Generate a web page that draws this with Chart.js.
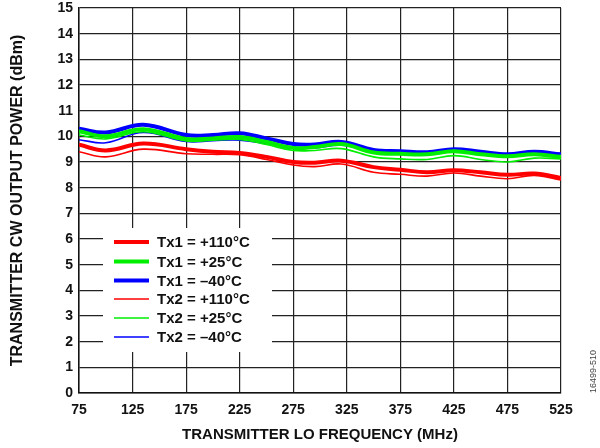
<!DOCTYPE html>
<html>
<head>
<meta charset="utf-8">
<script src="https://cdn.jsdelivr.net/npm/chart.js@4.4.1/dist/chart.umd.min.js"></script>
<style>
  html, body { margin: 0; padding: 0; background: #fff; }
  #wrap { width: 600px; height: 448px; position: relative; }
</style>
</head>
<body>
<div id="wrap"><canvas id="myChart" width="600" height="448"></canvas></div>
<script>
let freq = [75, 100, 135, 175, 200, 225, 250, 275, 295, 320, 350, 375, 400, 425, 450, 475, 500, 525];

let tx1Hot  = [9.67, 9.45, 9.72, 9.5, 9.4, 9.35, 9.2, 9.0, 8.97, 9.05, 8.8, 8.7, 8.6, 8.68, 8.6, 8.5, 8.55, 8.38];
let tx1Room = [10.2, 10.0, 10.28, 9.9, 9.92, 9.97, 9.78, 9.55, 9.58, 9.7, 9.37, 9.32, 9.3, 9.42, 9.3, 9.22, 9.3, 9.2];
let tx1Cold = [10.3, 10.15, 10.45, 10.05, 10.05, 10.12, 9.92, 9.7, 9.68, 9.78, 9.47, 9.42, 9.38, 9.5, 9.4, 9.3, 9.4, 9.3];
let tx2Hot  = [9.4, 9.2, 9.5, 9.32, 9.3, 9.28, 9.1, 8.88, 8.82, 8.92, 8.6, 8.52, 8.45, 8.57, 8.45, 8.35, 8.48, 8.3];
let tx2Room = [10.05, 9.9, 10.18, 9.82, 9.85, 9.88, 9.68, 9.45, 9.45, 9.52, 9.2, 9.12, 9.1, 9.25, 9.1, 9.0, 9.15, 9.12];
let tx2Cold = [9.87, 9.75, 10.15, 9.8, 9.83, 9.85, 9.72, 9.58, 9.55, 9.65, 9.4, 9.35, 9.32, 9.45, 9.33, 9.25, 9.35, 9.25];

let labels = ['Tx1 = +110°C', 'Tx1 = +25°C', 'Tx1 = –40°C', 'Tx2 = +110°C', 'Tx2 = +25°C', 'Tx2 = –40°C'];
let series = [tx1Hot, tx1Room, tx1Cold, tx2Hot, tx2Room, tx2Cold];
let colors = ['#ff0000', '#00ee00', '#0000ff', '#ff0000', '#00ee00', '#0000ff'];
let widths = [4, 4, 4, 1.6, 1.6, 1.6];

let xTicks = [75, 125, 175, 225, 275, 325, 375, 425, 475, 525];

let font = 'Liberation Sans, Arial, sans-serif';

let datasets = series.map(function (vals, i) {
    return {
        label: labels[i],
        data: vals.map(function (v, j) { return { x: freq[j], y: v }; }),
        borderColor: colors[i],
        borderWidth: widths[i],
        pointRadius: 0,
        tension: 0.4,
        fill: false
    };
});

// legend box inside the plot, plus the figure number on the right edge
let extras = {
    id: 'extras',
    afterDatasetsDraw: function (chart) {
        let ctx = chart.ctx;
        ctx.save();
        ctx.fillStyle = '#fff';
        ctx.fillRect(103, 228, 169, 124);
        ctx.font = 'bold 15px ' + font;
        ctx.textBaseline = 'middle';
        let rows = [242, 261.5, 280.5, 299, 318, 337];
        chart.data.datasets.forEach(function (ds, i) {
            ctx.strokeStyle = ds.borderColor;
            ctx.lineWidth = ds.borderWidth;
            ctx.beginPath();
            ctx.moveTo(114, rows[i]);
            ctx.lineTo(149, rows[i]);
            ctx.stroke();
            ctx.fillStyle = '#111';
            ctx.fillText(ds.label, 157, rows[i] + 1);
        });
        ctx.translate(594, 393);
        ctx.rotate(-Math.PI / 2);
        ctx.font = '9px ' + font;
        ctx.fillStyle = '#444';
        ctx.textBaseline = 'middle';
        ctx.textAlign = 'left';
        ctx.fillText('16499-510', 0, 0);
        ctx.restore();
    }
};

let myChart = document.getElementById('myChart').getContext('2d');

let chart = new Chart(myChart, {
    type: 'line',
    data: { datasets: datasets },
    plugins: [extras],
    options: {
        responsive: false,
        animation: false,
        layout: { padding: { top: 8, right: 39, left: 0, bottom: 0 } },
        plugins: {
            legend: { display: false },
            tooltip: { enabled: false }
        },
        scales: {
            x: {
                type: 'linear',
                min: 75,
                max: 525,
                afterBuildTicks: function (scale) {
                    scale.ticks = xTicks.map(function (v) { return { value: v }; });
                },
                afterFit: function (scale) { scale.height = 55; },
                grid: { color: '#222', lineWidth: 1.2, drawTicks: false },
                border: { color: '#111', width: 1.5 },
                ticks: {
                    color: '#111',
                    padding: 9,
                    maxRotation: 0,
                    autoSkip: false,
                    font: { family: font, size: 14, weight: 'bold' }
                },
                title: {
                    display: true,
                    text: 'TRANSMITTER LO FREQUENCY (MHz)',
                    color: '#111',
                    padding: { top: 6, bottom: 4 },
                    font: { family: font, size: 15, weight: 'bold' }
                }
            },
            y: {
                min: 0,
                max: 15,
                afterFit: function (scale) {
                    scale.width = 79;
                    scale.paddingTop = 0;
                    scale.paddingBottom = 0;
                },
                grid: { color: '#222', lineWidth: 1.2, drawTicks: false },
                border: { color: '#111', width: 1.5 },
                ticks: {
                    stepSize: 1,
                    color: '#111',
                    padding: 6,
                    font: { family: font, size: 14, weight: 'bold' }
                },
                title: {
                    display: true,
                    text: 'TRANSMITTER CW OUTPUT POWER (dBm)',
                    color: '#111',
                    padding: { top: 8, bottom: 0 },
                    font: { family: font, size: 16, weight: 'bold' }
                }
            }
        }
    }
});
</script>
</body>
</html>
